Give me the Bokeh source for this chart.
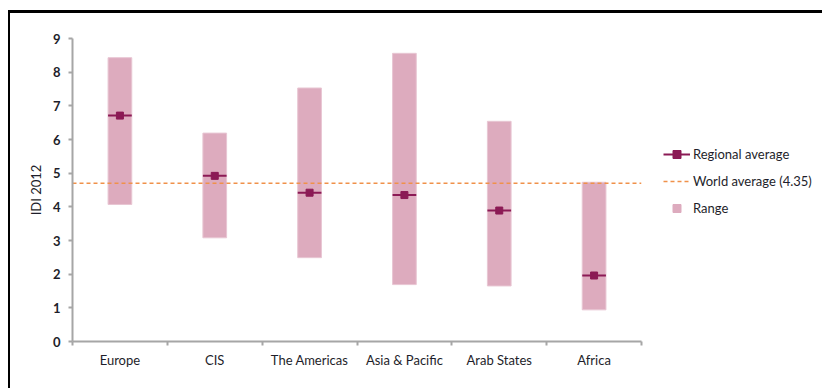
import numpy as np
from bokeh.plotting import figure
from bokeh.models import Range1d, FixedTicker, Legend, LegendItem, ColumnDataSource
from bokeh.embed import file_html
from bokeh.resources import INLINE

# ---- data ----
regions = ["Europe", "CIS", "The Americas", "Asia & Pacific", "Arab States", "Africa"]
range_min = [4.07, 3.08, 2.49, 1.69, 1.65, 0.94]
range_max = [8.43, 6.19, 7.53, 8.56, 6.54, 4.73]
regional_avg = [6.71, 4.92, 4.42, 4.35, 3.89, 1.96]
world_avg = 4.70
world_avg_label = "World average (4.35)"
y_ticks = [0, 1, 2, 3, 4, 5, 6, 7, 8, 9]

# ---- styles ----
FONT = "Lato"
BAR_FILL = "#ddabbe"
BAR_LINE = "#e8c6d3"
AVG_COLOR = "#8b1a55"
WORLD_COLOR = "#f0914a"
AXIS_COLOR = "#a6a6a6"
TEXT_COLOR = "#1e1e2a"
BAR_W = 0.25

n = len(regions)
centers = np.arange(n) + 0.5
src = ColumnDataSource(dict(
    x=centers, lo=range_min, hi=range_max, avg=regional_avg,
    x0=centers - BAR_W / 2, x1=centers + BAR_W / 2,
))

p = figure(frame_width=569, frame_height=303, output_backend="svg", toolbar_location=None,
           x_range=Range1d(0, n), y_range=Range1d(0, 9),
           min_border_left=62, min_border_top=25, min_border_bottom=47,
           min_border_right=30)
p.styles = {"margin-left": "8px", "margin-top": "10px",
            "border-left": "2px solid black", "border-top": "3px solid black"}
p.outline_line_color = None
p.grid.visible = False
p.background_fill_color = "white"
p.border_fill_color = "white"

bars = p.vbar(x="x", width=BAR_W, bottom="lo", top="hi", source=src,
              fill_color=BAR_FILL, line_color=BAR_LINE, line_width=1)
wline = p.line(x=[0, n], y=[world_avg, world_avg], line_color=WORLD_COLOR,
               line_width=1.6, line_dash="4 3")
segs = p.segment(x0="x0", x1="x1", y0="avg", y1="avg", source=src,
                 line_color=AVG_COLOR, line_width=2)
sq = p.scatter(x="x", y="avg", source=src, marker="square", size=7,
               fill_color=AVG_COLOR, line_color=AVG_COLOR)
range_dummy = p.scatter(x=[-10], y=[-10], marker="square", size=8,
                        fill_color=BAR_FILL, line_color=BAR_FILL)

# y axis
ya = p.yaxis[0]
ya.ticker = FixedTicker(ticks=y_ticks, minor_ticks=[])
ya.axis_line_color = AXIS_COLOR
ya.axis_line_width = 2
ya.major_tick_line_color = AXIS_COLOR
ya.major_tick_line_width = 2
ya.major_tick_out = 4
ya.major_tick_in = 0
ya.minor_tick_line_color = None
ya.major_label_text_font = FONT
ya.major_label_text_font_size = "13px"
ya.major_label_text_font_style = "bold"
ya.major_label_text_color = TEXT_COLOR
ya.major_label_standoff = 8
ya.axis_label = "IDI 2012"
ya.axis_label_text_font = FONT
ya.axis_label_text_font_size = "13px"
ya.axis_label_text_font_style = "normal"
ya.axis_label_text_color = TEXT_COLOR
ya.axis_label_standoff = 6

# x axis
xa = p.xaxis[0]
xa.ticker = FixedTicker(ticks=list(centers), minor_ticks=list(range(n + 1)))
xa.major_label_overrides = {float(c): r for c, r in zip(centers, regions)}
xa.axis_line_color = AXIS_COLOR
xa.axis_line_width = 2
xa.major_tick_line_color = None
xa.major_tick_out = 0
xa.major_tick_in = 0
xa.minor_tick_line_color = AXIS_COLOR
xa.minor_tick_line_width = 2
xa.minor_tick_out = 4
xa.minor_tick_in = 0
xa.major_label_text_font = FONT
xa.major_label_text_font_size = "13px"
xa.major_label_text_color = TEXT_COLOR
xa.major_label_standoff = 6

legend = Legend(items=[
    LegendItem(label="Regional average", renderers=[segs, sq]),
    LegendItem(label=world_avg_label, renderers=[wline]),
    LegendItem(label="Range", renderers=[range_dummy]),
], location=(22, 123))
legend.padding = 0
legend.margin = 0
legend.border_line_color = None
legend.background_fill_alpha = 0
legend.glyph_width = 27
legend.glyph_height = 20
legend.spacing = 7
legend.label_standoff = 3
legend.label_text_font = FONT
legend.label_text_font_size = "13px"
legend.label_text_color = TEXT_COLOR
p.add_layout(legend, "right")

open("out.html", "w").write(file_html(p, INLINE))
